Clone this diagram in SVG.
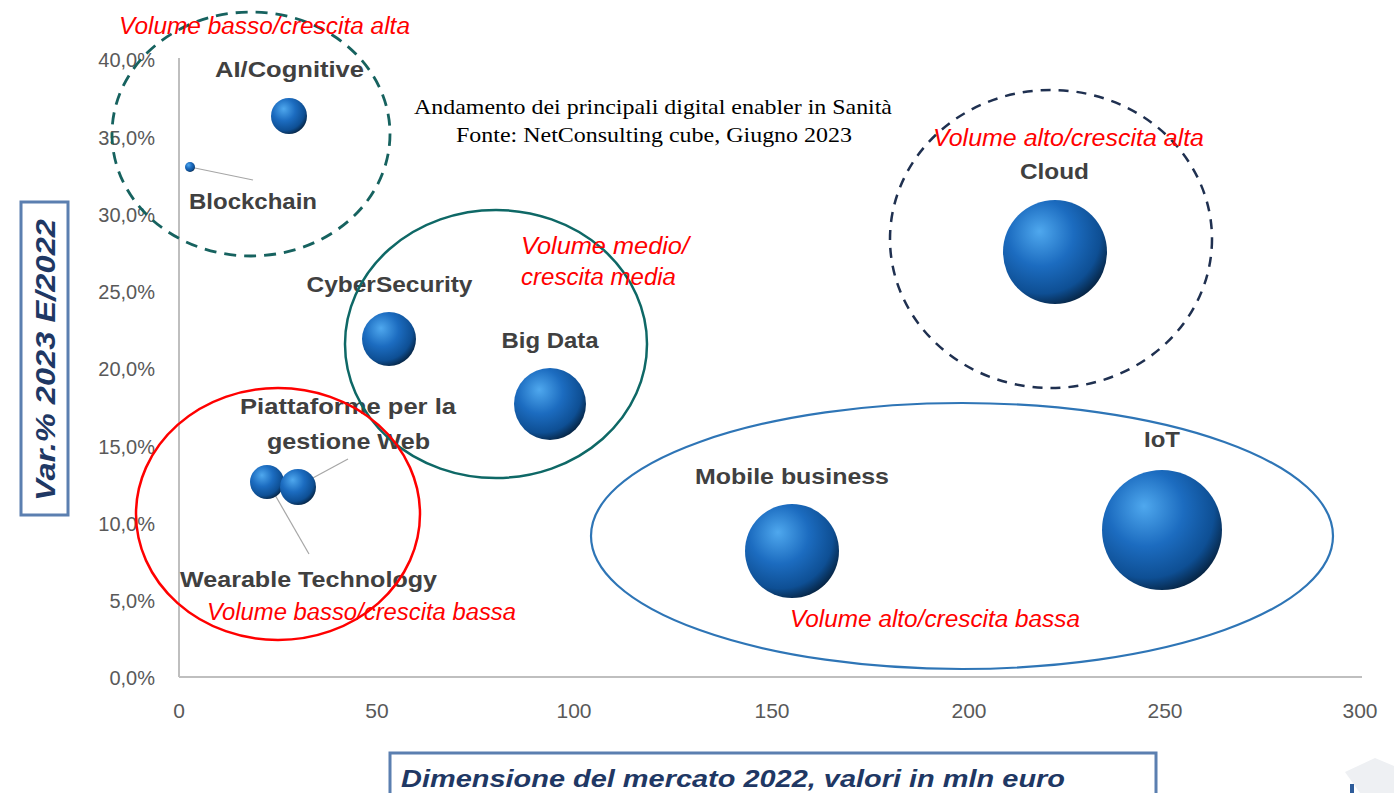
<svg xmlns="http://www.w3.org/2000/svg" width="1394" height="793" viewBox="0 0 1394 793">
<defs>
<radialGradient id="sph" cx="0.38" cy="0.35" r="0.7" fx="0.35" fy="0.3">
<stop offset="0" stop-color="#4FA8EE"/>
<stop offset="0.45" stop-color="#1C6CC0"/>
<stop offset="0.8" stop-color="#0E4F94"/>
<stop offset="1" stop-color="#06223F"/>
</radialGradient>
<style>
.tick{font-family:"Liberation Sans",Arial,sans-serif;font-size:20px;fill:#595959}
.xt{font-size:21px}
.lbl{font-family:"Liberation Sans",Arial,sans-serif;font-size:22px;font-weight:bold;fill:#404040;text-anchor:middle}
.note{font-family:"Liberation Sans",Arial,sans-serif;font-size:23px;font-style:italic;fill:#FF0000}
.ttl{font-family:"Liberation Serif","Times New Roman",serif;font-size:21px;fill:#000}
.axt{font-family:"Liberation Sans",Arial,sans-serif;font-weight:bold;font-style:italic;fill:#1F3864}
.lead{stroke:#A6A6A6;stroke-width:1.2;fill:none}
.bub{fill:url(#sph)}
</style>
</defs>
<rect width="1394" height="793" fill="#fff"/>
<g id="axes">
<line x1="179" y1="58" x2="179" y2="677" stroke="#BFBFBF" stroke-width="2"/>
<line x1="179" y1="677" x2="1362" y2="677" stroke="#BFBFBF" stroke-width="2"/>
<g class="tick" text-anchor="end">
<text x="155" y="67">40,0%</text>
<text x="155" y="145">35,0%</text>
<text x="155" y="222">30,0%</text>
<text x="155" y="299">25,0%</text>
<text x="155" y="376">20,0%</text>
<text x="155" y="454">15,0%</text>
<text x="155" y="531">10,0%</text>
<text x="155" y="608">5,0%</text>
<text x="155" y="685">0,0%</text>
</g>
<g class="tick xt" text-anchor="middle">
<text x="179" y="718">0</text>
<text x="377" y="718">50</text>
<text x="574" y="718">100</text>
<text x="772" y="718">150</text>
<text x="969" y="718">200</text>
<text x="1165" y="718">250</text>
<text x="1360" y="718">300</text>
</g>
</g>
<g id="y-title">
<rect x="21" y="202" width="47" height="313" fill="#fff" stroke="#5B7FB0" stroke-width="3"/>
<text class="axt" font-size="27" transform="translate(55,360) rotate(-90)" text-anchor="middle" textLength="282" lengthAdjust="spacingAndGlyphs">Var.% 2023 E/2022</text>
</g>
<g id="x-title">
<rect x="390" y="753" width="766" height="60" fill="#fff" stroke="#5B7FB0" stroke-width="3"/>
<text class="axt" font-size="24" x="401" y="787" textLength="664" lengthAdjust="spacingAndGlyphs">Dimensione del mercato 2022, valori in mln euro</text>
</g>
<g id="title">
<text class="ttl" x="414" y="114" textLength="478" lengthAdjust="spacingAndGlyphs">Andamento dei principali digital enabler in Sanità</text>
<text class="ttl" x="456" y="142" textLength="396" lengthAdjust="spacingAndGlyphs">Fonte: NetConsulting cube, Giugno 2023</text>
</g>
<g id="connectors">
<line class="lead" x1="190" y1="167" x2="253" y2="180"/>
<line class="lead" x1="298" y1="486" x2="348" y2="459"/>
<line class="lead" x1="267" y1="481" x2="309" y2="554"/>
</g>
<g id="ai"><circle class="bub" cx="289" cy="116" r="18"/><text class="lbl" x="289.5" y="77" textLength="149" lengthAdjust="spacingAndGlyphs">AI/Cognitive</text></g>
<g id="blockchain"><circle class="bub" cx="190" cy="167" r="5"/><text class="lbl" x="253" y="209" textLength="128" lengthAdjust="spacingAndGlyphs">Blockchain</text></g>
<g id="cyber"><circle class="bub" cx="389" cy="339" r="27"/><text class="lbl" x="389.5" y="292" textLength="166" lengthAdjust="spacingAndGlyphs">CyberSecurity</text></g>
<g id="bigdata"><circle class="bub" cx="550" cy="404" r="36"/><text class="lbl" x="550" y="348" textLength="97" lengthAdjust="spacingAndGlyphs">Big Data</text></g>
<g id="wearable"><circle class="bub" cx="267" cy="482" r="17"/><text class="lbl" x="308.5" y="587" textLength="257" lengthAdjust="spacingAndGlyphs">Wearable Technology</text></g>
<g id="piattaforme"><circle class="bub" cx="298" cy="487" r="18"/><text class="lbl" x="348" y="414" textLength="216" lengthAdjust="spacingAndGlyphs">Piattaforme per la</text><text class="lbl" x="348.5" y="449" textLength="163" lengthAdjust="spacingAndGlyphs">gestione Web</text></g>
<g id="cloud"><circle class="bub" cx="1055" cy="252" r="52"/><text class="lbl" x="1054.5" y="179" textLength="69" lengthAdjust="spacingAndGlyphs">Cloud</text></g>
<g id="mobile"><circle class="bub" cx="792" cy="551" r="47"/><text class="lbl" x="792" y="484" textLength="194" lengthAdjust="spacingAndGlyphs">Mobile business</text></g>
<g id="iot"><circle class="bub" cx="1162" cy="530" r="60"/><text class="lbl" x="1162" y="447" textLength="36" lengthAdjust="spacingAndGlyphs">IoT</text></g>
<g id="clusters" fill="none">
<ellipse cx="251" cy="134" rx="139" ry="122" stroke="#16625F" stroke-width="2.8" stroke-dasharray="12 8"/>
<ellipse cx="496" cy="344" rx="151" ry="134" stroke="#0E6866" stroke-width="2.5"/>
<ellipse cx="278" cy="514" rx="142" ry="126" stroke="#FF0000" stroke-width="2.5"/>
<ellipse cx="1051" cy="239" rx="161" ry="149" stroke="#1F3050" stroke-width="2.5" stroke-dasharray="10 8"/>
<ellipse cx="962" cy="536" rx="371" ry="133" stroke="#2E75B6" stroke-width="2.2"/>
</g>
<g id="notes">
<text class="note" x="119" y="34" textLength="291" lengthAdjust="spacingAndGlyphs">Volume basso/crescita alta</text>
<text class="note" x="521" y="254" textLength="168" lengthAdjust="spacingAndGlyphs">Volume medio/</text>
<text class="note" x="521" y="285" textLength="155" lengthAdjust="spacingAndGlyphs">crescita media</text>
<text class="note" x="933" y="146" textLength="271" lengthAdjust="spacingAndGlyphs">Volume alto/crescita alta</text>
<text class="note" x="207" y="620" textLength="309" lengthAdjust="spacingAndGlyphs">Volume basso/crescita bassa</text>
<text class="note" x="790" y="627" textLength="290" lengthAdjust="spacingAndGlyphs">Volume alto/crescita bassa</text>
</g>
<g id="corner">
<polygon points="1345,772 1375,758 1394,766 1394,793 1360,793" fill="#EEF0F3"/>
<rect x="1350" y="784" width="4" height="9" fill="#2E5C9A"/>
</g>
</svg>
